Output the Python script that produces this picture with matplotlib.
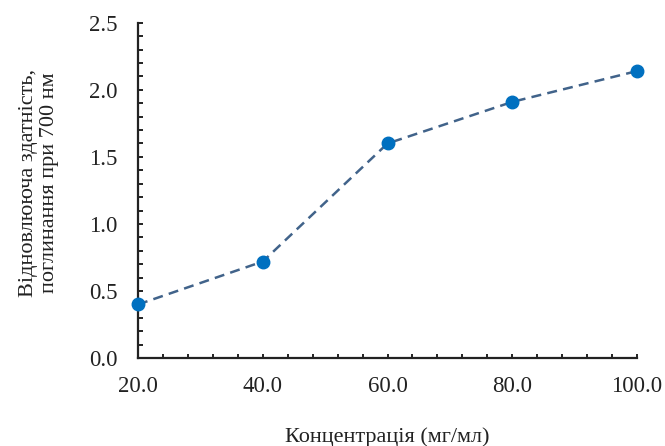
import matplotlib
matplotlib.use("Agg")
import matplotlib.pyplot as plt
from matplotlib.ticker import MultipleLocator, FormatStrFormatter

concentration = [20, 40, 60, 80, 100]
reducing_power = [0.40, 0.72, 1.60, 1.91, 2.14]

x_label = 'Концентрація (мг/мл)'
y_label = 'Відновлююча здатність,\nпоглинання при 700 нм'

plt.rcParams['font.family'] = ['Liberation Serif', 'DejaVu Serif']
ink = '#222222'

fig = plt.figure(figsize=(6.65, 4.46), dpi=100)
ax = fig.add_axes([0.2075, 0.197, 0.7505, 0.752])

ax.plot(concentration, reducing_power, linestyle=(0, (4, 2.5)), color='#41638a',
        linewidth=1.8, marker='o', markersize=9, markerfacecolor='#0070C0',
        markeredgecolor='#0070C0', clip_on=False, zorder=3)

ax.set_xlim(20, 100)
ax.set_ylim(0, 2.5)
ax.xaxis.set_major_locator(MultipleLocator(20))
ax.xaxis.set_minor_locator(MultipleLocator(4))
ax.yaxis.set_major_locator(MultipleLocator(0.5))
ax.yaxis.set_minor_locator(MultipleLocator(0.1))
ax.xaxis.set_major_formatter(FormatStrFormatter('%.1f'))
ax.yaxis.set_major_formatter(FormatStrFormatter('%.1f'))

for s in ['top', 'right']:
    ax.spines[s].set_visible(False)
for s in ['left', 'bottom']:
    ax.spines[s].set_linewidth(1.6)
    ax.spines[s].set_color(ink)

ax.tick_params(which='both', direction='in', color=ink, width=1.4, labelsize=16.5,
               labelcolor=ink)
ax.tick_params(axis='x', which='both', length=2.6, pad=13)
ax.tick_params(axis='y', which='both', length=3.6, pad=15)

fig.text(0.583, 0.02, x_label, fontsize=16, color=ink, ha='center', va='center')
fig.text(0.058, 0.59, y_label, fontsize=16, color=ink, ha='center', va='center',
         rotation=90, multialignment='center', linespacing=1.15)

fig.savefig('out.png', dpi=100)
